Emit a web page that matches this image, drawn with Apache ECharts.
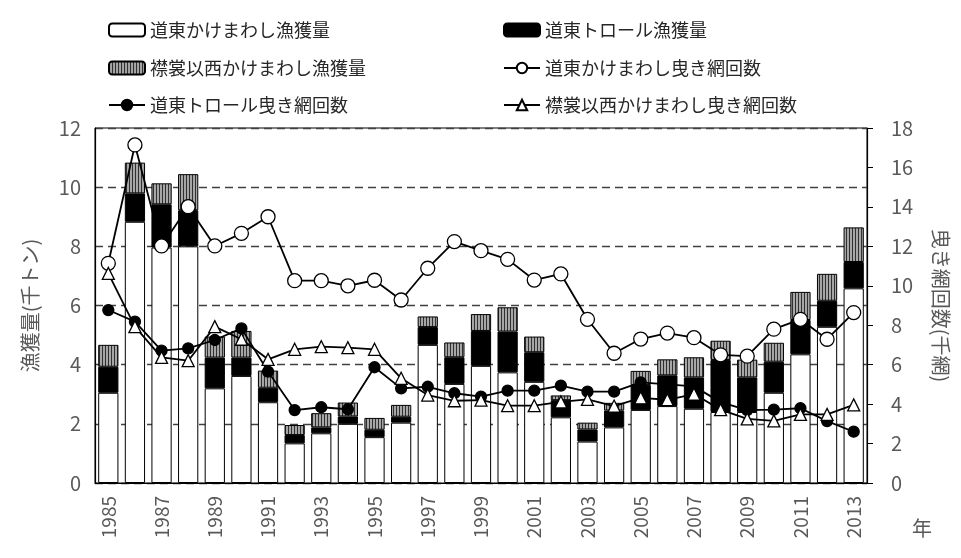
<!DOCTYPE html>
<html>
<head>
<meta charset="utf-8">
<script src="https://cdn.jsdelivr.net/npm/echarts@6/dist/echarts.min.js"></script>
<style>
  html, body { margin: 0; padding: 0; background: #fff; }
  #chart { width: 961px; height: 558px; }
</style>
</head>
<body>
<div id="chart"></div>
<script>
var years = ['1985','1986','1987','1988','1989','1990','1991','1992','1993','1994',
  '1995','1996','1997','1998','1999','2000','2001','2002','2003','2004',
  '2005','2006','2007','2008','2009','2010','2011','2012','2013'];

// 漁獲量 (千トン)
var dotoKakemawashi = [3.05, 8.83, 7.96, 8.0, 3.2, 3.62, 2.73, 1.34, 1.68, 2.0,
  1.55, 2.04, 4.67, 3.35, 3.96, 3.74, 3.42, 2.22, 1.4, 1.88,
  2.47, 2.6, 2.51, 2.4, 2.4, 3.05, 4.35, 5.28, 6.58];
var dotoTrawl = [0.88, 0.96, 1.46, 1.22, 1.04, 0.62, 0.49, 0.28, 0.2, 0.25,
  0.25, 0.2, 0.6, 0.9, 1.18, 1.38, 1.0, 0.58, 0.41, 0.57,
  0.84, 1.04, 1.06, 1.76, 1.17, 1.05, 1.16, 0.88, 0.89];
var erimoKakemawashi = [0.74, 1.04, 0.71, 1.22, 0.71, 0.9, 0.58, 0.34, 0.48, 0.47,
  0.4, 0.4, 0.36, 0.5, 0.57, 0.82, 0.53, 0.16, 0.23, 0.26,
  0.48, 0.54, 0.68, 0.65, 0.6, 0.64, 0.95, 0.91, 1.17];

// 曳き網回数 (千網)
var dotoKakemawashiHiki = [11.14, 17.14, 12.02, 14.01, 12.02, 12.66, 13.5, 10.26, 10.26, 10.0,
  10.28, 9.28, 10.89, 12.24, 11.78, 11.34, 10.29, 10.6, 8.3, 6.58,
  7.3, 7.6, 7.37, 6.5, 6.43, 7.8, 8.3, 7.29, 8.64];
var dotoTrawlHiki = [8.77, 8.18, 6.71, 6.83, 7.25, 7.84, 5.65, 3.7, 3.84, 3.74,
  5.87, 4.8, 4.88, 4.55, 4.38, 4.68, 4.68, 4.94, 4.63, 4.63,
  5.1, 5.0, 4.9, 4.1, 3.7, 3.72, 3.79, 3.14, 2.6];
var erimoKakemawashiHiki = [10.63, 7.93, 6.37, 6.2, 7.93, 7.29, 6.27, 6.78, 6.91, 6.86,
  6.78, 5.31, 4.46, 4.17, 4.2, 3.92, 3.92, 4.11, 4.24, 3.9,
  4.32, 4.22, 4.51, 3.72, 3.25, 3.15, 3.48, 3.48, 3.96];

var font = '"Noto Sans CJK JP", "Noto Sans", sans-serif';
var labelColor = '#595959';

// 縦縞のハッチング
var hatch = document.createElement('canvas');
hatch.width = 3;
hatch.height = 4;
var hctx = hatch.getContext('2d');
hctx.fillStyle = '#a6a6a6';
hctx.fillRect(0, 0, 3, 4);
hctx.fillStyle = '#303030';
hctx.fillRect(0, 0, 1, 4);

var chart = echarts.init(document.getElementById('chart'));

function legendAt(name, left, top) {
  return {
    data: [name],
    left: left,
    top: top,
    padding: 0,
    itemWidth: 36,
    itemHeight: 13,
    textStyle: { fontFamily: font, fontSize: 18, color: '#262626' }
  };
}

function lineSeries(name, data, symbol, size, fill) {
  return {
    name: name,
    type: 'line',
    yAxisIndex: 1,
    data: data,
    symbol: symbol,
    symbolSize: size,
    z: 5,
    lineStyle: { color: '#000', width: 1.8 },
    itemStyle: { color: fill, borderColor: '#000', borderWidth: 1.3 }
  };
}

var option = {
  animation: false,
  backgroundColor: '#fff',
  textStyle: { fontFamily: font },
  legend: [
    legendAt('道東かけまわし漁獲量', 108, 21),
    legendAt('道東トロール漁獲量', 503, 21),
    legendAt('襟裳以西かけまわし漁獲量', 108, 59),
    legendAt('道東かけまわし曳き網回数', 503, 59),
    legendAt('道東トロール曳き網回数', 108, 96),
    legendAt('襟裳以西かけまわし曳き網回数', 503, 96)
  ],
  grid: {
    left: 95, right: 94, top: 128, bottom: 75,
    show: true, borderColor: '#000', borderWidth: 1
  },
  xAxis: {
    type: 'category',
    data: years,
    boundaryGap: true,
    axisLine: { lineStyle: { color: '#000', width: 1.2 } },
    axisTick: { inside: true, length: 5, lineStyle: { color: '#000' } },
    axisLabel: {
      interval: 1, rotate: 90, margin: 13,
      fontSize: 19, color: labelColor, fontFamily: font
    }
  },
  yAxis: [
    {
      type: 'value', min: 0, max: 12, interval: 2,
      name: '漁獲量(千トン)', nameLocation: 'middle', nameGap: 55,
      nameTextStyle: { fontSize: 20, color: labelColor, fontFamily: font },
      axisLine: { show: true, lineStyle: { color: '#000', width: 1.2 } },
      axisTick: { show: false },
      axisLabel: { fontSize: 20, color: labelColor, margin: 14 },
      splitLine: { lineStyle: { color: '#404040', type: [8, 5], width: 1.4 } }
    },
    {
      type: 'value', min: 0, max: 18, interval: 2,
      name: '曳き網回数(千網)', nameLocation: 'middle', nameGap: 64, nameRotate: -90,
      nameTextStyle: { fontSize: 20, color: labelColor, fontFamily: font },
      axisLine: { show: true, lineStyle: { color: '#000', width: 1.2 } },
      axisTick: { show: true, length: 6, lineStyle: { color: '#000' } },
      axisLabel: { fontSize: 20, color: labelColor, margin: 24 },
      splitLine: { show: false }
    }
  ],
  graphic: [
    {
      type: 'text', left: 912, top: 518,
      style: { text: '年', fontSize: 20, fill: labelColor, fontFamily: font }
    }
  ],
  series: [
    {
      name: '道東かけまわし漁獲量', type: 'bar', stack: 'catch',
      data: dotoKakemawashi, barCategoryGap: '24%',
      itemStyle: { color: '#fff', borderColor: '#000', borderWidth: 1 }
    },
    {
      name: '道東トロール漁獲量', type: 'bar', stack: 'catch',
      data: dotoTrawl,
      itemStyle: { color: '#000', borderColor: '#000', borderWidth: 1 }
    },
    {
      name: '襟裳以西かけまわし漁獲量', type: 'bar', stack: 'catch',
      data: erimoKakemawashi,
      itemStyle: { color: { image: hatch, repeat: 'repeat' }, borderColor: '#000', borderWidth: 1 }
    },
    lineSeries('道東かけまわし曳き網回数', dotoKakemawashiHiki, 'circle', 14, '#fff'),
    lineSeries('道東トロール曳き網回数', dotoTrawlHiki, 'circle', 11, '#000'),
    lineSeries('襟裳以西かけまわし曳き網回数', erimoKakemawashiHiki, 'triangle', 12, '#fff')
  ]
};

chart.setOption(option);
</script>
</body>
</html>
